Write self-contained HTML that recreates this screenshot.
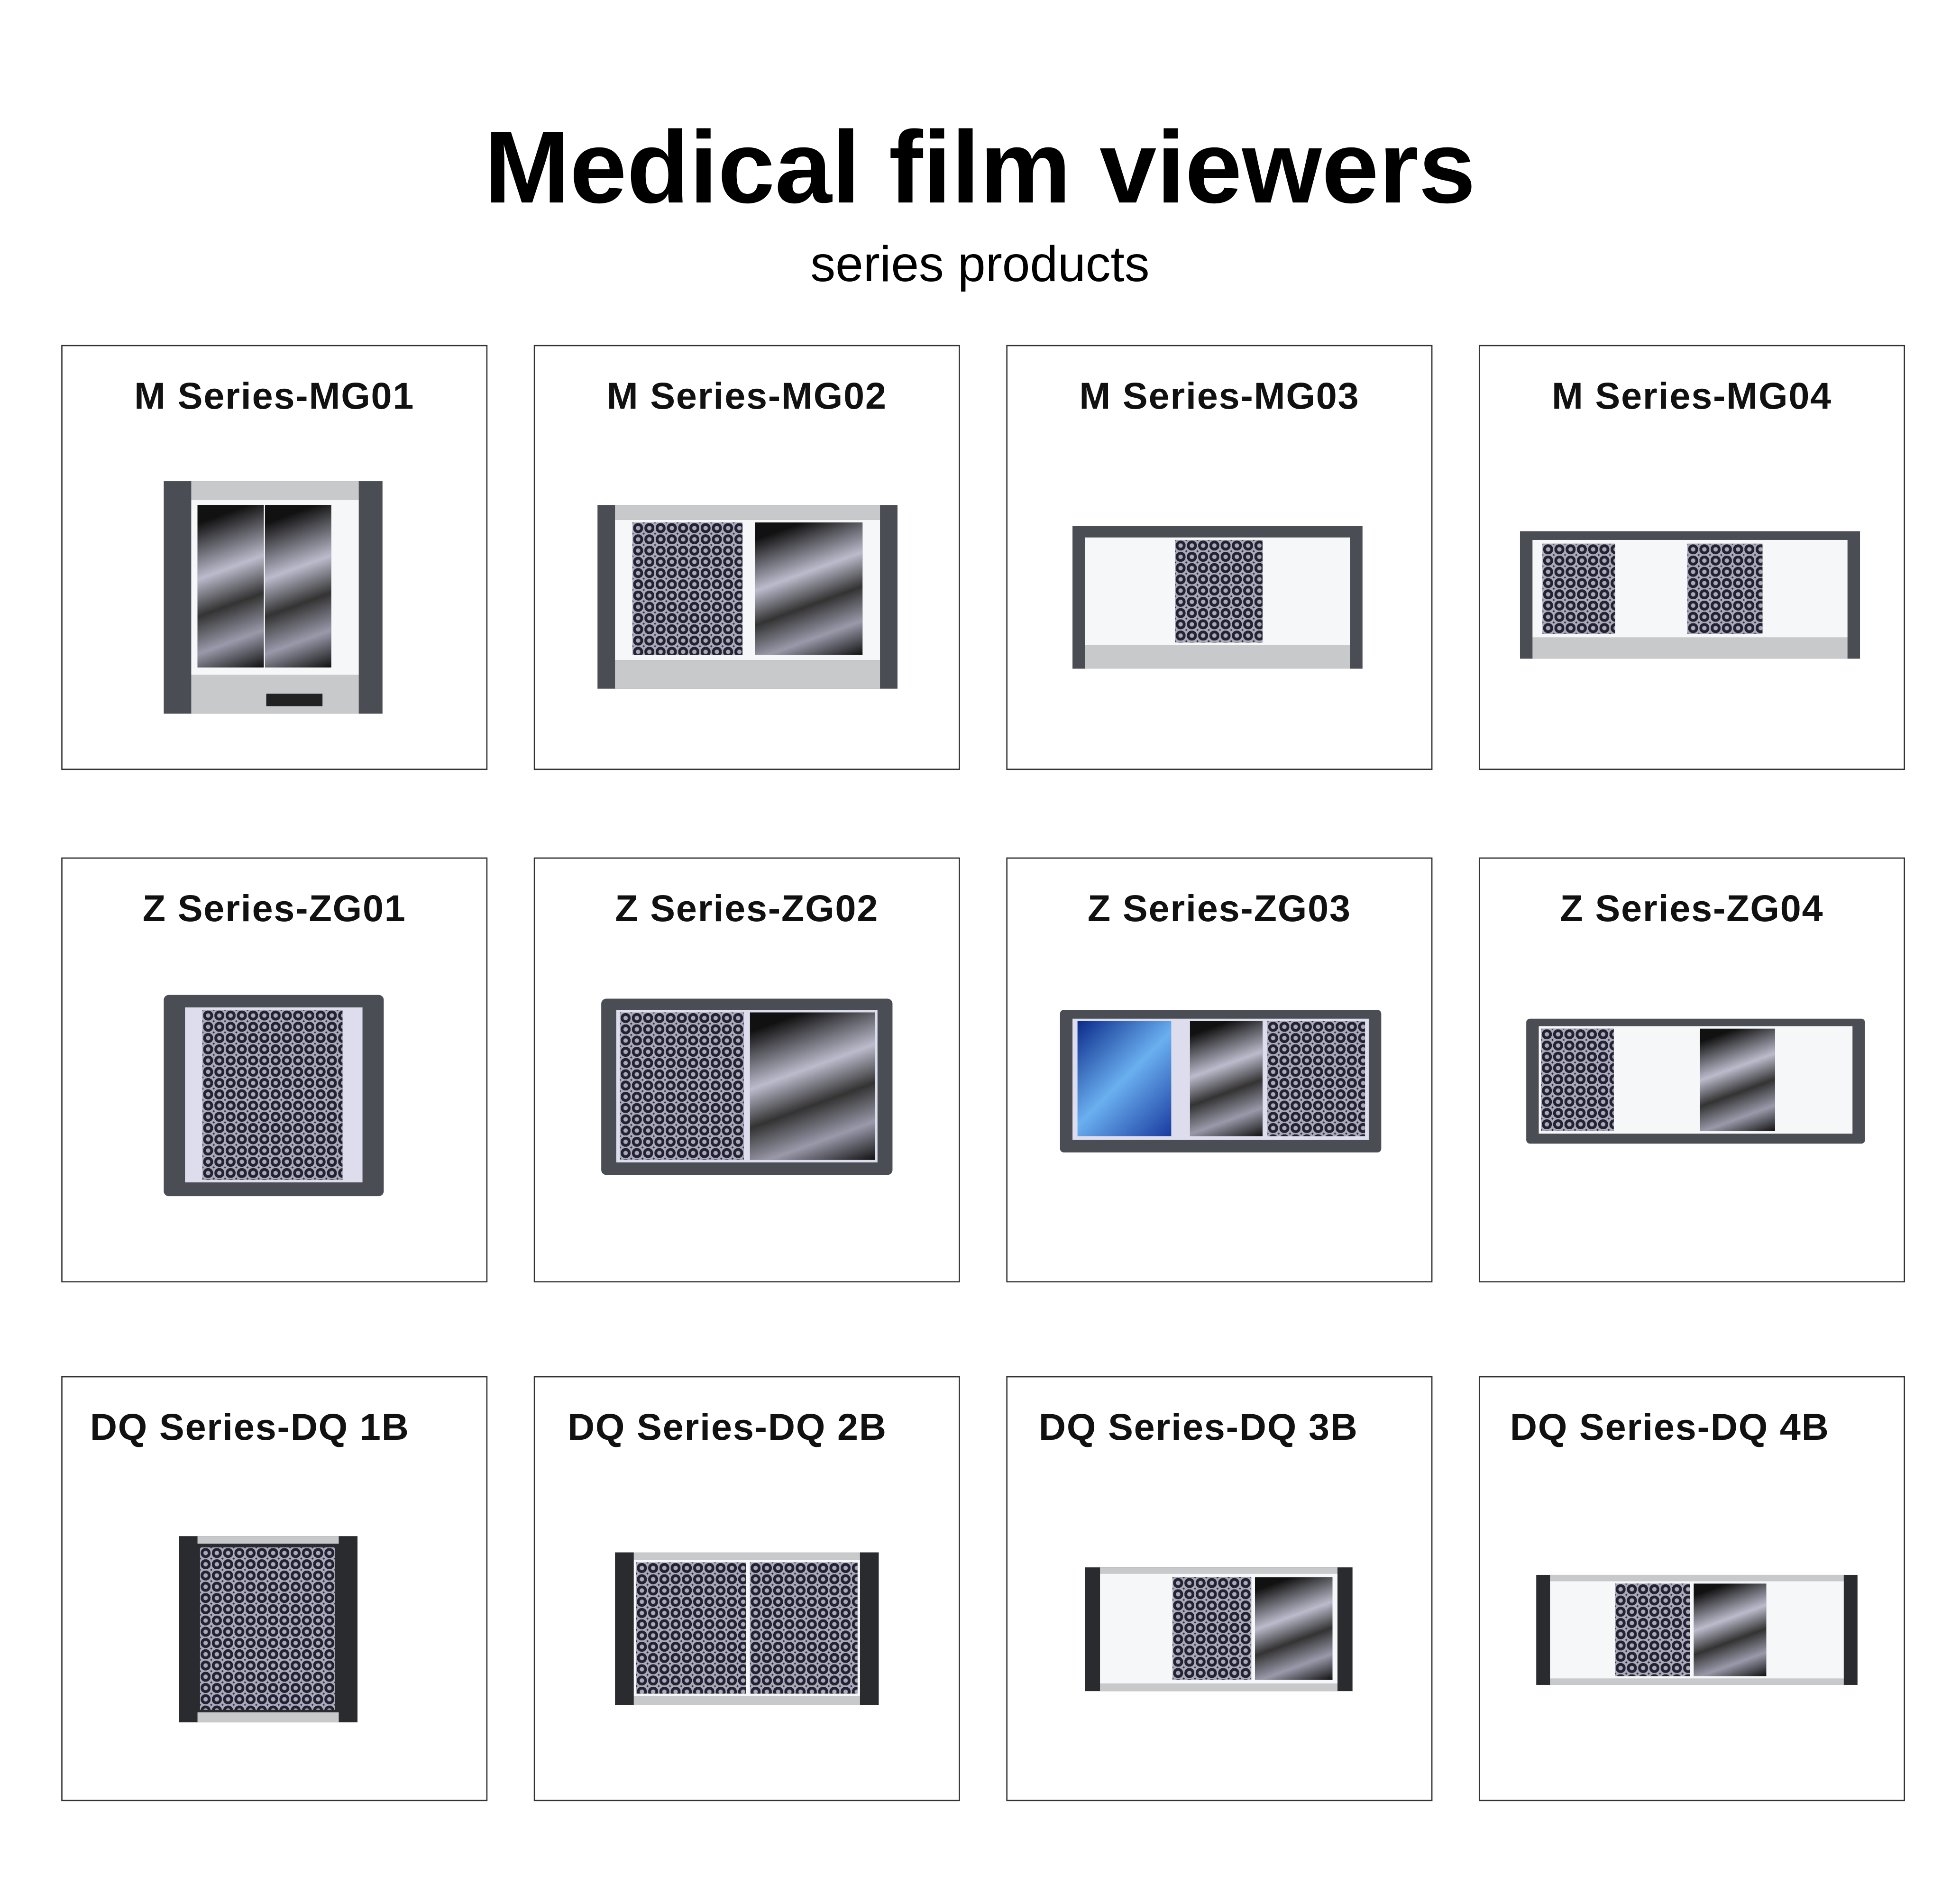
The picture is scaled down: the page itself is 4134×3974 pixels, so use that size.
<!DOCTYPE html>
<html><head><meta charset="utf-8"><style>
html,body{margin:0;padding:0;background:#fff;}
#wrap{width:1568px;height:1507px;position:relative;transform:scale(2.63648);transform-origin:0 0;font-family:"Liberation Sans",sans-serif;}
.t{position:absolute;left:0;width:1568px;text-align:center;color:#000;}
.box{position:absolute;width:341px;height:340px;border:1.5px solid #333;box-sizing:border-box;}
.lab{position:absolute;top:24px;left:0;width:100%;text-align:center;font-weight:bold;font-size:30px;letter-spacing:0.7px;color:#111;}
.lab.l{text-align:left;left:22px;}
.v{position:absolute;background:#4a4d53;}
.scr{position:absolute;background:#f6f7f8;}
.f{position:absolute;background:#1c2230;background-image:repeating-radial-gradient(circle at 50% 50%,#aab 0 1.5px,#223 2px 4px);background-size:9px 9px;}
.x{position:absolute;background:#222;background-image:linear-gradient(160deg,#111 10%,#bbc 40%,#333 60%,#99a 80%,#111);}
.bar{position:absolute;background:#c8c9cb;}
</style></head><body><div id="wrap">
<div class="t" style="top:88px;font-size:82px;font-weight:bold;">Medical film viewers</div>
<div class="t" style="top:190px;font-size:40px;">series products</div>

<div class="box" style="left:49px;top:276px"><div class="lab">M Series-MG01</div></div>
<div class="box" style="left:427px;top:276px"><div class="lab">M Series-MG02</div></div>
<div class="box" style="left:805px;top:276px"><div class="lab">M Series-MG03</div></div>
<div class="box" style="left:1183px;top:276px"><div class="lab">M Series-MG04</div></div>
<div class="box" style="left:49px;top:686px"><div class="lab">Z Series-ZG01</div></div>
<div class="box" style="left:427px;top:686px"><div class="lab">Z Series-ZG02</div></div>
<div class="box" style="left:805px;top:686px"><div class="lab">Z Series-ZG03</div></div>
<div class="box" style="left:1183px;top:686px"><div class="lab">Z Series-ZG04</div></div>
<div class="box" style="left:49px;top:1101px"><div class="lab l">DQ Series-DQ 1B</div></div>
<div class="box" style="left:427px;top:1101px"><div class="lab l" style="left:26px">DQ Series-DQ 2B</div></div>
<div class="box" style="left:805px;top:1101px"><div class="lab l" style="left:25px">DQ Series-DQ 3B</div></div>
<div class="box" style="left:1183px;top:1101px"><div class="lab l" style="left:24px">DQ Series-DQ 4B</div></div>

<div class="v" style="left:131px;top:385px;width:175px;height:186px"></div>
<div class="bar" style="left:153px;top:385px;width:134px;height:15px"></div>
<div class="scr" style="left:153px;top:400px;width:134px;height:140px"></div>
<div class="bar" style="left:153px;top:540px;width:134px;height:31px"></div>
<div class="x" style="left:158px;top:404px;width:53px;height:130px"></div>
<div class="x" style="left:212px;top:404px;width:53px;height:130px"></div>
<div style="position:absolute;left:213px;top:555px;width:45px;height:10px;background:#222"></div>
<div class="v" style="left:478px;top:404px;width:240px;height:147px"></div>
<div class="bar" style="left:492px;top:404px;width:212px;height:12px"></div>
<div class="scr" style="left:492px;top:416px;width:212px;height:112px"></div>
<div class="bar" style="left:492px;top:528px;width:212px;height:23px"></div>
<div class="f" style="left:506px;top:418px;width:88px;height:106px"></div>
<div class="x" style="left:604px;top:418px;width:86px;height:106px"></div>
<div class="v" style="left:858px;top:421px;width:232px;height:114px"></div>
<div class="scr" style="left:868px;top:430px;width:212px;height:86px"></div>
<div class="bar" style="left:868px;top:516px;width:212px;height:19px"></div>
<div class="f" style="left:940px;top:432px;width:70px;height:82px"></div>
<div class="v" style="left:1216px;top:425px;width:272px;height:102px"></div>
<div class="scr" style="left:1226px;top:432px;width:252px;height:78px"></div>
<div class="bar" style="left:1226px;top:510px;width:252px;height:17px"></div>
<div class="f" style="left:1234px;top:435px;width:58px;height:72px"></div>
<div class="f" style="left:1350px;top:435px;width:60px;height:72px"></div>

<div class="v" style="left:131px;top:796px;width:176px;height:161px;border-radius:4px"></div>
<div class="scr" style="left:148px;top:806px;width:142px;height:140px;background:#dde"></div>
<div class="f" style="left:162px;top:808px;width:112px;height:136px"></div>
<div class="v" style="left:481px;top:799px;width:233px;height:141px;border-radius:4px"></div>
<div class="scr" style="left:493px;top:808px;width:209px;height:122px;background:#dde"></div>
<div class="f" style="left:496px;top:810px;width:99px;height:118px;background-color:#334"></div>
<div class="x" style="left:600px;top:810px;width:100px;height:118px"></div>
<div class="v" style="left:848px;top:808px;width:257px;height:114px;border-radius:3px"></div>
<div class="scr" style="left:858px;top:815px;width:237px;height:97px;background:#dde"></div>
<div style="position:absolute;left:862px;top:817px;width:75px;height:92px;background:linear-gradient(135deg,#0b2a8a,#6ab0f0,#1a3aa0)"></div>
<div class="x" style="left:952px;top:817px;width:58px;height:92px"></div>
<div class="f" style="left:1014px;top:817px;width:78px;height:92px"></div>
<div class="v" style="left:1221px;top:815px;width:271px;height:100px;border-radius:3px"></div>
<div class="scr" style="left:1231px;top:821px;width:251px;height:86px"></div>
<div class="f" style="left:1233px;top:823px;width:58px;height:82px;background-color:#0a1a50"></div>
<div class="x" style="left:1360px;top:823px;width:60px;height:82px"></div>

<div class="v" style="left:143px;top:1229px;width:143px;height:149px;background:#2a2b2e"></div>
<div class="bar" style="left:158px;top:1229px;width:113px;height:6px"></div>
<div class="bar" style="left:158px;top:1370px;width:113px;height:8px"></div>
<div class="f" style="left:160px;top:1238px;width:108px;height:130px"></div>
<div class="v" style="left:492px;top:1242px;width:211px;height:122px;background:#2a2b2e"></div>
<div class="bar" style="left:507px;top:1242px;width:181px;height:6px"></div>
<div class="bar" style="left:507px;top:1357px;width:181px;height:7px"></div>
<div class="scr" style="left:507px;top:1248px;width:181px;height:109px"></div>
<div class="f" style="left:509px;top:1250px;width:88px;height:105px;background-color:#5a3a30"></div>
<div class="f" style="left:600px;top:1250px;width:86px;height:105px"></div>
<div class="v" style="left:868px;top:1254px;width:214px;height:99px;background:#2a2b2e"></div>
<div class="bar" style="left:880px;top:1254px;width:190px;height:5px"></div>
<div class="bar" style="left:880px;top:1347px;width:190px;height:6px"></div>
<div class="scr" style="left:880px;top:1259px;width:190px;height:88px"></div>
<div class="f" style="left:938px;top:1262px;width:63px;height:82px"></div>
<div class="x" style="left:1004px;top:1262px;width:62px;height:82px"></div>
<div class="v" style="left:1229px;top:1260px;width:257px;height:88px;background:#2a2b2e"></div>
<div class="bar" style="left:1240px;top:1260px;width:235px;height:5px"></div>
<div class="bar" style="left:1240px;top:1343px;width:235px;height:5px"></div>
<div class="scr" style="left:1240px;top:1265px;width:235px;height:78px"></div>
<div class="f" style="left:1292px;top:1267px;width:60px;height:74px"></div>
<div class="x" style="left:1355px;top:1267px;width:58px;height:74px"></div>
</div></body></html>
